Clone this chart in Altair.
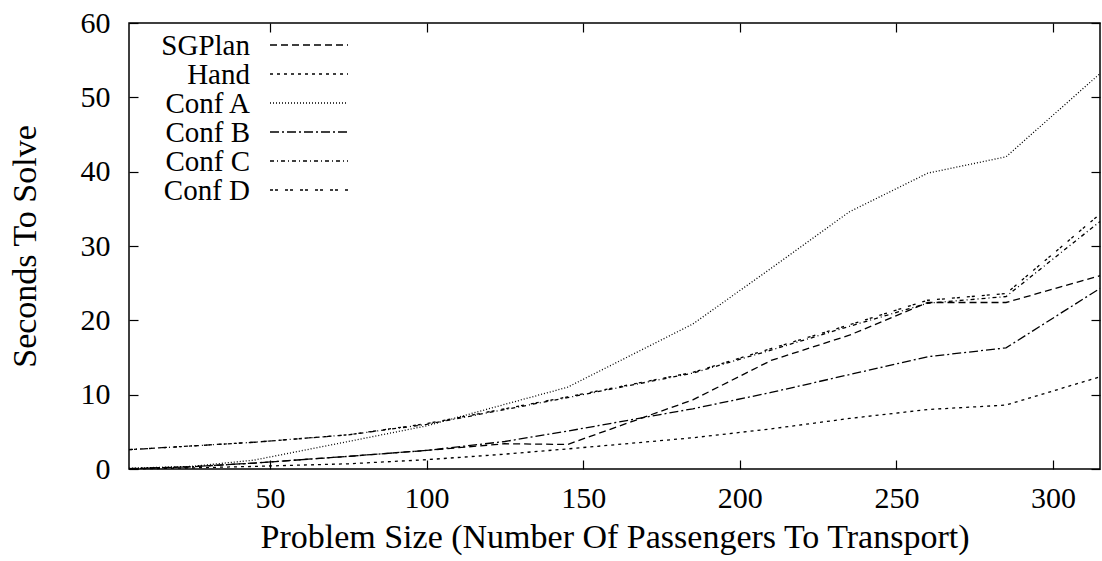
import altair as alt
import pandas as pd

# ---- data ----
x_vals = [5, 25, 45, 75, 100, 125, 145, 185, 210, 235, 260, 285, 315]
sgplan = [0.05, 0.3, 0.8, 1.7, 2.5, 3.4, 3.3, 9.3, 14.6, 18.0, 22.4, 22.4, 26.0]
hand = [0.0, 0.15, 0.35, 0.7, 1.25, 2.0, 2.7, 4.2, 5.4, 6.8, 8.0, 8.6, 12.4]
conf_a = [0.1, 0.35, 1.2, 3.7, 5.8, 8.7, 11.0, 19.5, 27.0, 34.6, 39.8, 42.0, 53.2]
conf_b = [0.05, 0.3, 0.8, 1.7, 2.5, 3.7, 5.1, 8.1, 10.3, 12.7, 15.1, 16.3, 24.3]
conf_c = [2.6, 3.1, 3.6, 4.6, 6.0, 8.0, 9.6, 12.9, 16.0, 19.2, 22.3, 23.2, 33.3]
conf_d = [2.6, 3.1, 3.6, 4.6, 6.1, 8.1, 9.7, 13.0, 16.2, 19.4, 22.7, 23.6, 34.3]

names = ["SGPlan", "Hand", "Conf A", "Conf B", "Conf C", "Conf D"]
series = [sgplan, hand, conf_a, conf_b, conf_c, conf_d]
dashes = [[7, 4], [3, 4], [1, 2], [9, 3, 2, 3], [4, 3, 1, 3], [3, 2, 3, 7]]

x_ticks = [50, 100, 150, 200, 250, 300]
y_ticks = [0, 10, 20, 30, 40, 50, 60]

rows = []
for name, ys in zip(names, series):
    for x, y in zip(x_vals, ys):
        rows.append({"series": name, "size": x, "seconds": y})
df = pd.DataFrame(rows)
legend_df = pd.DataFrame({"series": names})

FONT = "Liberation Serif"
FS = 30
TFS = 34
LFS = 29
W, H = 971, 446

x_scale = alt.Scale(domain=[5, 315], nice=False, zero=False)
y_scale = alt.Scale(domain=[0, 60], nice=False)
dash_scale = alt.Scale(domain=names, range=dashes)

base = alt.Chart(df)

main = base.mark_line(color="black", strokeWidth=1.3).encode(
    x=alt.X("size:Q", scale=x_scale,
            axis=alt.Axis(values=x_ticks, title="Problem Size (Number Of Passengers To Transport)",
                          tickSize=0, labelPadding=14, domain=False, grid=False,
                          titlePadding=7, orient="bottom")),
    y=alt.Y("seconds:Q", scale=y_scale,
            axis=alt.Axis(values=y_ticks, title="Seconds To Solve",
                          tickSize=0, labelPadding=19, domain=False, grid=False,
                          titlePadding=38, orient="left")),
    strokeDash=alt.StrokeDash("series:N", sort=names, scale=dash_scale, legend=None),
)

tick_axis = dict(labels=False, title=None, domain=False, grid=False,
                 tickSize=9, tickColor="black", tickWidth=1.2)

ticks_a = base.mark_point(opacity=0).encode(
    x=alt.X("size:Q", scale=x_scale,
            axis=alt.Axis(values=x_ticks, orient="top", offset=-H, **tick_axis)),
    y=alt.Y("seconds:Q", scale=y_scale,
            axis=alt.Axis(values=y_ticks, orient="right", offset=-W, **tick_axis)),
)

ticks_b = base.mark_point(opacity=0).encode(
    x=alt.X("size:Q", scale=x_scale,
            axis=alt.Axis(values=x_ticks, orient="bottom", offset=-H, **tick_axis)),
    y=alt.Y("seconds:Q", scale=y_scale,
            axis=alt.Axis(values=y_ticks, orient="left", offset=-W, **tick_axis)),
)

# gnuplot-style key: labels right-aligned, line samples to their right
leg_y = alt.Y("series:N", sort=names,
              scale=alt.Scale(type="point", domain=names, range=[22, 167], padding=0),
              axis=None)

key_text = alt.Chart(legend_df).mark_text(
    align="right", baseline="middle", font=FONT, fontSize=LFS, color="black", dy=1
).encode(x=alt.value(121), y=leg_y, text="series:N")

key_line = alt.Chart(legend_df).mark_rule(color="black", strokeWidth=1.3).encode(
    x=alt.value(141), x2=alt.value(219), y=leg_y,
    strokeDash=alt.StrokeDash("series:N", sort=names, scale=dash_scale, legend=None),
)

chart = alt.layer(main, ticks_a, ticks_b, key_text, key_line).resolve_axis(
    x="independent", y="independent"
).resolve_scale(
    y="independent"
).properties(
    width=W, height=H,
    autosize=alt.AutoSizeParams(type="none"),
    padding={"left": 129, "top": 23, "right": 2, "bottom": 92},
    background="white",
).configure_view(
    stroke="black", strokeWidth=1.5
).configure_axis(
    labelFont=FONT, labelFontSize=FS, labelColor="black",
    titleFont=FONT, titleFontSize=TFS, titleColor="black", titleFontWeight="normal",
)

chart.save("out.html", embed_options={"renderer": "svg", "actions": False})
